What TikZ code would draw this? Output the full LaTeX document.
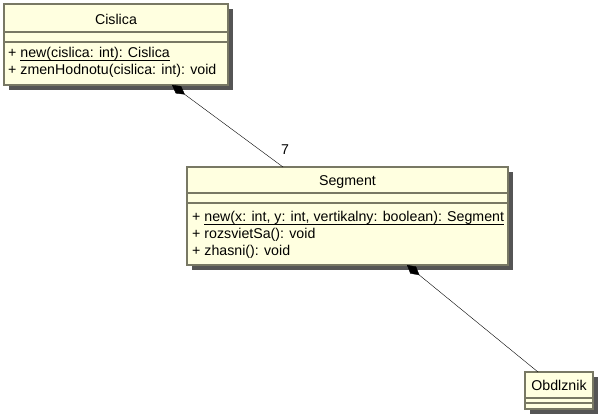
\documentclass[tikz,border=0pt]{standalone}
\usepackage{fontspec}
\setmainfont{Liberation Sans}
\usetikzlibrary{arrows.meta,shadows}

\definecolor{umlfill}{RGB}{255,255,224}
\definecolor{umlline}{RGB}{120,120,100}
\definecolor{umlshadow}{RGB}{85,85,85}
% static member underline, just below the baseline
\newcommand{\umlstatic}[1]{\setbox0\hbox{#1}\rlap{\rule[-2.6pt]{\wd0}{0.9pt}}\box0}

\begin{document}
\begin{tikzpicture}[x=1pt,y=-1pt,
  classbox/.style={draw=umlline,fill=umlfill,line width=1.3pt,inner sep=0pt,
    drop shadow={shadow xshift=5pt,shadow yshift=-5pt,fill=umlshadow,opacity=1}},
  divider/.style={draw=umlline,line width=1.3pt},
  umltext/.style={inner sep=0pt,anchor=base,font=\fontsize{14.2}{17}\selectfont},
  member/.style={umltext,anchor=base west},
  comp/.style={-{Diamond[length=16pt,width=9pt]},thin}]
  \useasboundingbox (0,0) rectangle (598,414);
  % Cislica class
  \node[classbox,minimum width=224pt,minimum height=81pt] (cislica) at (116,44.5) {};
  \draw[divider] (4,32) -- (228,32);
  \draw[divider] (4,42) -- (228,42);
  \node[umltext] (cislicaName) at (116,25) {Cislica};
  \node[member] (cislicaNew) at (8,58) {+ \umlstatic{new(cislica: int): Cislica}};
  \node[member] (cislicaSet) at (8,75) {+ zmenHodnotu(cislica: int): void};
  % Segment class
  \node[classbox,minimum width=321pt,minimum height=98pt] (segment) at (347.5,216) {};
  \draw[divider] (187,193) -- (508,193);
  \draw[divider] (187,203) -- (508,203);
  \node[umltext] (segmentName) at (347.5,186) {Segment};
  \node[member] (segmentNew) at (192,222) {+ \umlstatic{new(x: int, y: int, vertikalny: boolean): Segment}};
  \node[member] (segmentOn) at (192,239) {+ rozsvietSa(): void};
  \node[member] (segmentOff) at (192,256) {+ zhasni(): void};
  % Obdlznik class
  \node[classbox,minimum width=68pt,minimum height=37pt] (obdlznik) at (559,390.5) {};
  \draw[divider] (525,398) -- (593,398);
  \draw[divider] (525,403) -- (593,403);
  \node[umltext] (obdlznikName) at (559,391) {Obdlznik};
  % Compositions
  \coordinate (cislicaJoin) at (172,85);
  \coordinate (segmentTop) at (283,167);
  \coordinate (segmentJoin) at (407,265);
  \coordinate (obdlznikTop) at (538,372);
  \draw[comp] (segmentTop) -- (cislicaJoin);
  \draw[comp] (obdlznikTop) -- (segmentJoin);
  \node[umltext] (cislicaMult) at (285,155) {7};
\end{tikzpicture}
\end{document}
